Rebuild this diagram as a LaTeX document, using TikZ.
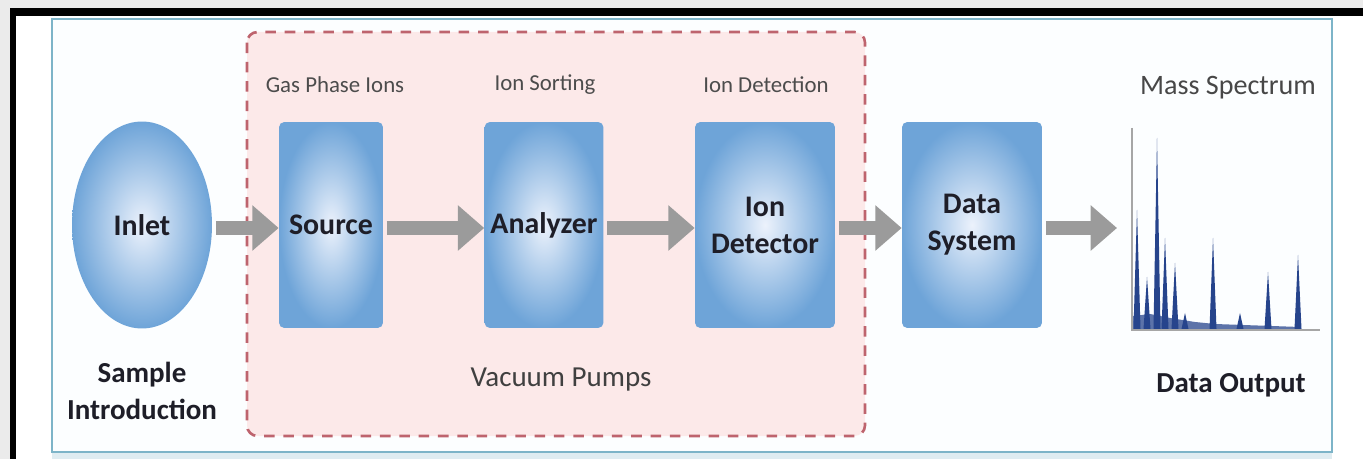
\documentclass[tikz,border=0pt]{standalone}
\usepackage{xcolor}
\usepackage{fontspec}
\setmainfont{Carlito}
\usepackage{tikz}
\usetikzlibrary{shapes.geometric, arrows.meta}

\definecolor{boxin}{RGB}{236,242,252}
\definecolor{boxout}{RGB}{110,164,216}
\definecolor{flowgray}{RGB}{155,155,155}
\definecolor{pinkfill}{RGB}{252,233,233}
\definecolor{pinkline}{RGB}{190,100,110}
\definecolor{panelline}{RGB}{125,180,200}
\definecolor{peakblue}{RGB}{38,68,140}
\definecolor{labeltext}{RGB}{30,30,40}

\begin{document}
\begin{tikzpicture}[x=0.02cm, y=-0.02cm,
        unit/.style={draw=none, rounded corners=3pt, shading=radial, inner color=boxin, outer color=boxout,
            minimum height=4.12cm, align=center, font=\fontsize{17}{21}\selectfont\bfseries, text=labeltext},
        flow/.style={draw=flowgray, line width=8.5pt, -{Triangle[width=25pt, length=15pt]}, shorten <=2pt},
        toplabel/.style={font=\fontsize{13}{15}\selectfont, text=black!70},
        biglabel/.style={font=\fontsize{16.5}{21}\selectfont\bfseries, text=labeltext, align=center}]
        \useasboundingbox (0,0) rectangle (1363,459);

        % frame and panel
        \fill[black!8] (0,0) rectangle (1363,459);
        \fill[white] (16,16) rectangle (1363,459);
        \fill[black] (10,8) rectangle (1363,16);
        \fill[black] (10,8) rectangle (16,459);
        \fill[panelline!25] (52,452) rectangle (1332,459);
        \draw[panelline, line width=1.2pt, fill=cyan!1] (52,19) rectangle (1332,452);

        % vacuum region
        \draw[pinkline, line width=1.5pt, dash pattern=on 6pt off 5pt, fill=pinkfill, rounded corners=6pt]
            (247,32) rectangle (865,436);

        \node[ellipse, draw=none, shading=radial, inner color=boxin, outer color=boxout, minimum width=2.8cm,
            minimum height=4.14cm, inner sep=0pt, font=\fontsize{17}{21}\selectfont\bfseries, text=labeltext]
            at (142,225) (inlet) {Inlet};
        \node[unit, minimum width=2.08cm] at (331,225) (source) {Source};
        \node[unit, minimum width=2.28cm] at (544,225) (analyzer) {Analyzer};
        \node[unit, minimum width=2.8cm] at (765,225) (detector) {Ion\\Detector};
        \node[unit, minimum width=2.8cm] at (972,225) (datasys) {Data\\System};
        \coordinate (spec) at (1117,228);

        \draw[flow] (inlet.east |- 0,228) -- (source.west |- 0,228);
        \draw[flow] (source.east |- 0,228) -- (analyzer.west |- 0,228);
        \draw[flow] (analyzer.east |- 0,228) -- (detector.west |- 0,228);
        \draw[flow] (detector.east |- 0,228) -- (datasys.west |- 0,228);
        \draw[flow] (datasys.east |- 0,228) -- (spec);

        \node[toplabel] at (335,85) (gasions) {Gas Phase Ions};
        \node[toplabel] at (545,85) (sorting) {Ion Sorting};
        \node[toplabel] at (766,85) (detection) {Ion Detection};
        \node[font=\fontsize{16}{19}\selectfont, text=black!72] at (1228,88) (massspec) {Mass Spectrum};
        \node[font=\fontsize{16.5}{19}\selectfont, text=black!75] at (561,380) (pumps) {Vacuum Pumps};
        \node[biglabel] at (142,391) (sampleintro) {Sample\\Introduction};
        \node[biglabel] at (1231,385) (dataout) {Data Output};

        % spectrum
        \draw[black!35, line width=0.8pt] (1132,128) -- (1132,330) -- (1320,330);
        \fill[peakblue!75] (1133,329) -- (1133,316) -- (1150,314) -- (1170,318) -- (1195,322) -- (1215,324)
            -- (1300,327) -- (1300,329) -- cycle;
        \foreach \px/\py in {1137/210, 1147/277, 1157/138, 1165/238, 1175/263, 1185/313,
                1213/238, 1240/313, 1268/272, 1298/255}
            \fill[peakblue] (\px-3.5,329) -- (\px,\py) -- (\px+3.5,329) -- cycle;
    \end{tikzpicture}
\end{document}
